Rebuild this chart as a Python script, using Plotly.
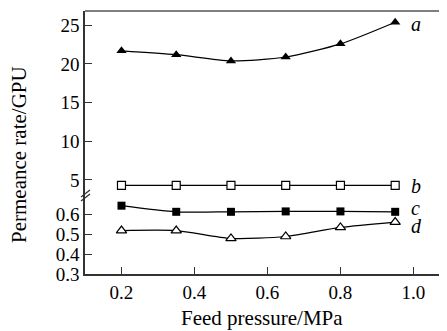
import plotly.graph_objects as go

pressure = [0.2, 0.35, 0.5, 0.65, 0.8, 0.95]
a_vals = [21.7, 21.2, 20.4, 20.9, 22.6, 25.4]
b_vals = [4.3, 4.3, 4.3, 4.3, 4.3, 4.3]
c_vals = [0.646, 0.615, 0.615, 0.617, 0.617, 0.615]
d_vals = [0.52, 0.52, 0.48, 0.49, 0.536, 0.563]
upper_ticks = [5, 10, 15, 20, 25]
lower_ticks = [0.3, 0.4, 0.5, 0.6]
x_ticks = [0.2, 0.4, 0.6, 0.8, 1.0]

OFF = 8  # page body margin
W, H = 447 - OFF, 331 - OFF
L, T, R = 85 - OFF, 11 - OFF, 0
B = H - (274 - OFF)
pw, ph = W - L - R, H - T - B
brk = (274 - 197) / ph

FONT = "Liberation Serif, Times New Roman, serif"
line = dict(color="black", width=1.2, shape="spline", smoothing=0.7)

fig = go.Figure()
fig.add_trace(go.Scatter(x=pressure, y=a_vals, xaxis="x", yaxis="y2", mode="lines+markers",
                         line=line, marker=dict(symbol="triangle-up", size=9, color="black")))
fig.add_trace(go.Scatter(x=pressure, y=b_vals, xaxis="x", yaxis="y2", mode="lines+markers",
                         line=line, marker=dict(symbol="square", size=8, color="white",
                                                line=dict(color="black", width=1.2))))
fig.add_trace(go.Scatter(x=pressure, y=c_vals, xaxis="x", yaxis="y", mode="lines+markers",
                         line=line, marker=dict(symbol="square", size=8, color="black")))
fig.add_trace(go.Scatter(x=pressure, y=d_vals, xaxis="x", yaxis="y", mode="lines+markers",
                         line=line, marker=dict(symbol="triangle-up", size=9, color="white",
                                                line=dict(color="black", width=1.2))))

tickfont = dict(family=FONT, size=19, color="black")
axcommon = dict(showgrid=False, zeroline=False, showline=True, linecolor="#333", linewidth=1.5,
                ticks="inside", ticklen=7, tickwidth=1.3, tickcolor="#333", tickfont=tickfont)

fig.update_layout(
    width=W, height=H, margin=dict(l=L, r=R, t=T, b=B),
    paper_bgcolor="white", plot_bgcolor="white", showlegend=False,
    xaxis=dict(domain=[0, 1], range=[0.1, 1.092], tickvals=x_ticks,
               ticktext=["0.2", "0.4", "0.6", "0.8", "1.0"], anchor="y", **axcommon),
    yaxis=dict(domain=[0, brk], range=[0.3, 0.69], tickvals=lower_ticks,
               ticktext=["0.3", "0.4", "0.5", "0.6"], anchor="x", **axcommon),
    yaxis2=dict(domain=[brk, 1], range=[2.8, 26.85], tickvals=upper_ticks, anchor="x", **axcommon),
)

def px(x, y):
    # screen pixel -> paper coords
    return (x - OFF - L) / pw, (H - B - (y - OFF)) / ph

# top frame line
fig.add_shape(type="line", xref="paper", yref="paper", x0=0, x1=1, y0=1, y1=1,
              line=dict(color="#555", width=1.5))
# break marks
for dy in (0, 4):
    x0, y0 = px(81, 197 + dy)
    x1, y1 = px(90, 190 + dy)
    fig.add_shape(type="line", xref="paper", yref="paper", x0=x0, y0=y0, x1=x1, y1=y1,
                  line=dict(color="#333", width=1.3))

# series labels
labels = [("a", 24), ("b", 186), ("c", 208), ("d", 226)]
for t, ypx in labels:
    xx, yy = px(409, ypx)
    fig.add_annotation(text=t, xref="paper", yref="paper", x=xx, y=yy, xanchor="left",
                       yanchor="middle", showarrow=False,
                       font=dict(family=FONT, size=20, color="black", style="italic"))

fig.add_annotation(text="Feed pressure/MPa", xref="paper", yref="paper",
                   x=px(262, 0)[0], y=px(0, 318)[1], xanchor="center", yanchor="middle",
                   showarrow=False, font=dict(family=FONT, size=21, color="black"))
fig.add_annotation(text="Permeance rate/GPU", xref="paper", yref="paper", textangle=-90,
                   x=px(19, 0)[0], y=px(0, 155)[1], xanchor="center", yanchor="middle",
                   showarrow=False, font=dict(family=FONT, size=21, color="black"))

fig.write_html("out.html")
